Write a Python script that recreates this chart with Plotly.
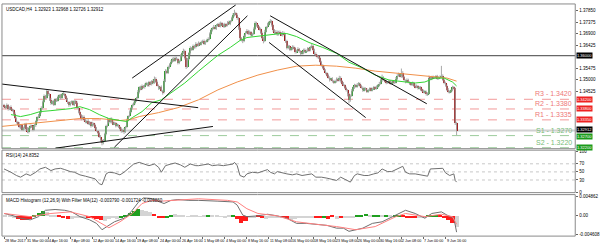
import numpy as np
import plotly.graph_objects as go

# ---------------- DATA ----------------
first_open = 1.3395
close = [
 1.3390, 1.3385, 1.3395, 1.3380, 1.3388, 1.3378, 1.3375, 1.3360, 1.3342, 1.3326,
 1.3318, 1.3305, 1.3312, 1.3294, 1.3300, 1.3318, 1.3296, 1.3285, 1.3302, 1.3310,
 1.3306, 1.3295, 1.3312, 1.3330, 1.3345, 1.3352, 1.3367, 1.3385, 1.3410, 1.3432,
 1.3425, 1.3453, 1.3440, 1.3418, 1.3404, 1.3412, 1.3398, 1.3420, 1.3415, 1.3428,
 1.3436, 1.3425, 1.3440, 1.3444, 1.3432, 1.3420, 1.3408, 1.3395, 1.3405, 1.3410,
 1.3398, 1.3412, 1.3404, 1.3385, 1.3368, 1.3355, 1.3340, 1.3348, 1.3335, 1.3326,
 1.3332, 1.3318, 1.3325, 1.3310, 1.3320, 1.3314, 1.3300, 1.3290, 1.3281, 1.3265,
 1.3250, 1.3240, 1.3248, 1.3275, 1.3310, 1.3334, 1.3325, 1.3340, 1.3326, 1.3318,
 1.3322, 1.3310, 1.3314, 1.3305, 1.3298, 1.3288, 1.3294, 1.3285, 1.3305, 1.3334,
 1.3350, 1.3368, 1.3383, 1.3395, 1.3405, 1.3415, 1.3424, 1.3450, 1.3469, 1.3462,
 1.3475, 1.3470, 1.3480, 1.3485, 1.3478, 1.3490, 1.3482, 1.3495, 1.3488, 1.3506,
 1.3492, 1.3477, 1.3465, 1.3470, 1.3455, 1.3449, 1.3495, 1.3538, 1.3530, 1.3552,
 1.3565, 1.3575, 1.3587, 1.3580, 1.3592, 1.3585, 1.3570, 1.3579, 1.3598, 1.3610,
 1.3620, 1.3590, 1.3555, 1.3585, 1.3610, 1.3632, 1.3625, 1.3640, 1.3635, 1.3648,
 1.3642, 1.3653, 1.3648, 1.3655, 1.3661, 1.3650, 1.3658, 1.3665, 1.3669, 1.3690,
 1.3705, 1.3714, 1.3720, 1.3712, 1.3725, 1.3730, 1.3722, 1.3735, 1.3728, 1.3720,
 1.3730, 1.3725, 1.3738, 1.3732, 1.3742, 1.3755, 1.3768, 1.3775, 1.3770, 1.3755,
 1.3715, 1.3673, 1.3665, 1.3661, 1.3680, 1.3695, 1.3702, 1.3690, 1.3698, 1.3685,
 1.3689, 1.3712, 1.3734, 1.3725, 1.3718, 1.3710, 1.3695, 1.3675, 1.3661, 1.3700,
 1.3718, 1.3730, 1.3738, 1.3742, 1.3725, 1.3705, 1.3693, 1.3700, 1.3688, 1.3698,
 1.3693, 1.3685, 1.3695, 1.3689, 1.3660, 1.3632, 1.3640, 1.3625, 1.3628, 1.3638,
 1.3630, 1.3615, 1.3620, 1.3628, 1.3618, 1.3608, 1.3612, 1.3625, 1.3615, 1.3620,
 1.3630, 1.3622, 1.3635, 1.3640, 1.3625, 1.3608, 1.3600, 1.3595, 1.3591, 1.3575,
 1.3560, 1.3551, 1.3540, 1.3528, 1.3520, 1.3510, 1.3500, 1.3505, 1.3495, 1.3489,
 1.3495, 1.3505, 1.3498, 1.3510, 1.3495, 1.3485, 1.3478, 1.3468, 1.3457, 1.3440,
 1.3416, 1.3435, 1.3455, 1.3469, 1.3478, 1.3472, 1.3480, 1.3485, 1.3475, 1.3468,
 1.3457, 1.3465, 1.3460, 1.3452, 1.3457, 1.3465, 1.3458, 1.3462, 1.3470, 1.3465,
 1.3472, 1.3477, 1.3485, 1.3498, 1.3510, 1.3500, 1.3495, 1.3488, 1.3489, 1.3495,
 1.3485, 1.3489, 1.3492, 1.3489, 1.3505, 1.3518, 1.3522, 1.3515, 1.3530, 1.3512,
 1.3498, 1.3492, 1.3500, 1.3490, 1.3485, 1.3480, 1.3488, 1.3477, 1.3470, 1.3475,
 1.3465, 1.3469, 1.3460, 1.3455, 1.3449, 1.3452, 1.3440, 1.3444, 1.3510, 1.3505,
 1.3512, 1.3508, 1.3510, 1.3515, 1.3505, 1.3510, 1.3512, 1.3518, 1.3500, 1.3488,
 1.3477, 1.3460, 1.3449, 1.3452, 1.3457, 1.3470, 1.3465, 1.3322, 1.3289,
]
upper_wick_pips = [
 6,4,8,5,3,7,4,5,6,3, 5,8,4,6,7,3,5,9,4,6, 5,4,6,3,5,7,4,6,5,8,
 6,7,4,5,8,3,6,5,4,7, 5,6,4,8,3,5,6,4,7,5, 6,4,5,7,3,5,4,6,5,8,
 4,6,5,3,7,4,5,6,3,5, 6,4,8,7,5,10,6,4,5,7, 5,4,6,3,5,6,4,7,5,6,
 4,6,5,7,5,4,6,8,5,7, 6,4,5,7,4,6,5,4,7,8, 5,6,4,5,7,4,8,6,5,7,
 4,6,5,7,5,4,6,5,8,6, 9,5,4,6,5,7,4,6,5,8, 5,6,4,7,5,6,4,5,7,6,
 6,5,7,4,6,5,7,6,4,5, 6,4,5,7,5,6,8,15,6,5, 5,6,4,5,7,6,8,5,6,4,
 6,5,8,6,5,4,6,5,4,7, 5,6,5,9,6,4,5,6,4,5, 6,5,7,4,5,6,5,4,6,5,
 4,6,5,7,4,5,6,4,5,6, 5,4,6,9,5,4,6,5,4,5, 4,5,6,4,5,6,5,4,6,5,
 6,5,4,7,5,4,6,5,4,5, 6,5,7,4,6,5,7,6,4,5, 5,6,4,5,6,4,5,6,5,4,
 5,6,7,6,12,5,6,4,5,6, 4,6,5,5,7,6,8,5,17,6, 5,4,6,5,4,6,5,4,5,6,
 4,5,6,4,5,6,4,5,8,6, 5,6,4,5,6,5,7,40,5,6, 5,4,6,5,4,6,5,3,5,
]
lower_wick_pips = [
 5,6,4,7,5,4,6,5,4,6, 6,5,8,5,4,6,7,5,6,4, 5,7,4,6,5,4,6,5,7,4,
 5,4,6,5,7,6,5,4,6,5, 4,6,5,4,6,5,7,6,4,5, 5,6,4,5,6,5,7,4,6,5,
 6,4,5,7,4,6,5,4,6,5, 8,10,6,5,4,6,5,4,6,5, 4,6,5,4,7,6,5,8,4,5,
 5,4,6,5,4,6,5,4,6,5, 4,5,6,4,5,7,4,5,6,4, 5,4,6,5,4,10,5,4,6,5,
 6,5,4,6,5,4,6,5,4,5, 4,6,10,5,4,6,5,4,6,5, 5,4,6,5,4,6,5,4,6,5,
 4,5,6,4,5,6,4,5,6,4, 5,6,4,5,6,4,5,6,4,7, 8,10,6,9,5,4,6,5,4,6,
 5,4,6,5,4,6,5,7,10,5, 4,5,6,4,5,6,5,4,6,5, 5,4,6,5,7,6,5,4,6,5,
 4,6,5,4,6,5,4,6,5,4, 5,6,4,5,6,5,4,6,5,4, 5,6,4,5,6,5,7,4,6,5,
 4,6,5,4,6,5,4,6,5,8, 12,6,5,4,6,5,4,6,5,4, 6,5,4,6,5,4,6,5,4,5,
 5,6,4,5,6,4,5,6,4,5, 5,4,6,5,4,6,5,4,6,5, 4,6,5,4,6,5,4,6,5,4,
 5,4,6,5,4,6,5,6,4,5, 6,5,4,6,5,4,6,5,4,6, 5,6,4,5,6,4,5,8,17,
]

# moving averages (bar, price)
ma_fast_bar = [5, 12, 19, 26, 34, 41, 48, 55, 62, 69, 76, 84, 89, 93, 100, 107, 114, 121, 131, 141,
               155, 164, 171, 176, 189, 200, 205, 212, 221, 231, 241, 250, 260, 269, 279, 284, 291,
               298, 305, 312, 319, 325, 328]
ma_fast_val = [1.33568, 1.33486, 1.33568, 1.33690, 1.33731, 1.33772, 1.33812, 1.33894, 1.33772, 1.33568,
               1.33404, 1.33323, 1.33282, 1.33445, 1.33690, 1.34057, 1.34180, 1.34465, 1.34873, 1.35363,
               1.36016, 1.36342, 1.36628, 1.36750, 1.36832, 1.36913, 1.36913, 1.36791, 1.36546, 1.36342,
               1.36097, 1.35730, 1.35485, 1.35200, 1.34996, 1.34955, 1.34914, 1.34873, 1.34914, 1.35077,
               1.35077, 1.34914, 1.34750]
ma_slow_bar = [-2, 12, 26, 41, 55, 69, 84, 91, 98, 112, 126, 141, 155, 169, 184, 198, 212, 226, 241,
               255, 269, 284, 298, 312, 321, 328]
ma_slow_val = [1.33078, 1.33160, 1.33241, 1.33323, 1.33404, 1.33404, 1.33323, 1.33363, 1.33486, 1.33649,
               1.33853, 1.34180, 1.34588, 1.34914, 1.35200, 1.35404, 1.35567, 1.35608, 1.35567, 1.35485,
               1.35363, 1.35281, 1.35200, 1.35118, 1.35077, 1.34950]

# RSI(14)
rsi_bar = [0, 1, 5, 9, 12, 16, 19, 23, 26, 30, 34, 37, 41, 44, 48, 51, 55, 59, 62, 66, 69, 71, 74, 76, 80,
           84, 87, 91, 94, 98, 101, 105, 109, 112, 114, 117, 121, 124, 128, 131, 135, 139, 141, 144, 148,
           151, 155, 159, 162, 166, 167, 169, 171, 174, 176, 180, 184, 187, 191, 193, 196, 198, 201, 205,
           209, 212, 216, 219, 223, 226, 230, 234, 237, 241, 244, 248, 251, 254, 256, 261, 264, 268, 271,
           274, 278, 281, 284, 286, 289, 291, 294, 298, 301, 305, 307, 309, 312, 316, 318, 320, 323, 326,
           327, 328]
rsi_val = [57.3, 56.0, 49.2, 41.1, 37.0, 45.1, 41.1, 49.2, 57.3, 61.4, 53.3, 57.3, 58.9, 55.7, 50.8, 49.2,
           42.7, 39.4, 37.0, 32.9, 20.7, 18.3, 45.1, 49.2, 47.6, 42.7, 49.2, 61.4, 69.5, 73.6, 69.5, 65.4,
           69.5, 61.4, 49.2, 65.4, 69.5, 72.0, 67.1, 61.4, 69.5, 65.4, 65.4, 67.1, 69.5, 65.4, 67.1, 65.4,
           67.1, 69.5, 73.6, 65.4, 41.1, 37.0, 45.1, 49.2, 47.6, 50.8, 55.7, 49.2, 45.1, 50.8, 47.6, 45.1,
           42.7, 45.1, 41.1, 42.7, 45.1, 37.0, 37.0, 34.6, 32.9, 28.9, 37.0, 31.0, 24.8, 41.1, 45.1, 41.1,
           41.1, 45.1, 47.6, 57.3, 50.8, 50.8, 55.7, 58.9, 63.8, 49.2, 45.1, 45.1, 42.7, 41.1, 39.4, 57.3,
           57.3, 57.3, 58.9, 47.6, 41.1, 45.1, 28.9, 24.8]
rsi_levels = [70, 50, 30]

# MACD
macd_bar = [0, 5, 12, 19, 25, 30, 37, 44, 49, 55, 62, 67, 71, 75, 80, 87, 92, 98, 101, 106, 112, 116, 121,
            126, 134, 141, 155, 166, 169, 173, 176, 184, 191, 198, 205, 212, 219, 226, 234, 241, 246, 250,
            254, 260, 267, 274, 284, 289, 291, 298, 305, 310, 317, 321, 326, 327, 328]
macd_val = [0.0006, 0.0002, -0.0006, -0.0010, -0.0002, 0.0014, 0.0016, 0.0014, 0.0010, -0.0002, -0.0010,
            -0.0019, -0.0035, -0.0027, -0.0015, -0.0006, 0.0010, 0.0037, 0.0045, 0.0044, 0.0037, 0.0031,
            0.0039, 0.0041, 0.0039, 0.0039, 0.0037, 0.0035, 0.0027, 0.0002, -0.0002, 0.0000, 0.0004,
            0.0000, -0.0006, -0.0019, -0.0019, -0.0021, -0.0024, -0.0031, -0.0031, -0.0039, -0.0035,
            -0.0031, -0.0019, -0.0015, 0.0002, 0.0010, 0.0014, 0.0006, -0.0006, 0.0006, 0.0010, 0.0002,
            -0.0006, -0.0023, -0.0041]
signal_bar = [0, 19, 34, 48, 62, 69, 76, 84, 93, 100, 107, 114, 124, 141, 162, 169, 176, 184, 198, 212,
              226, 241, 255, 269, 284, 291, 305, 317, 325, 328]
signal_val = [0.0006, -0.0002, 0.0006, 0.0010, -0.0002, -0.0015, -0.0030, -0.0015, 0.0006, 0.0031,
              0.0039, 0.0037, 0.0039, 0.0043, 0.0039, 0.0035, 0.0018, 0.0006, 0.0000, -0.0015, -0.0021,
              -0.0027, -0.0035, -0.0027, -0.0002, 0.0006, -0.0002, 0.0004, -0.0002, -0.0021]
hist_start = 0
hist_step = 3
hist_val = [0.0001, 0.0001, -0.0002, -0.0007, -0.0010, -0.0009, -0.0006, 0.0004, 0.0009, 0.0014,
            0.0011, 0.0003, 0.0002, 0.0001, -0.0005, -0.0008, -0.0006, -0.0003, -0.0004, -0.0005,
            -0.0003, -0.0005, -0.0008, -0.0010, -0.0012, -0.0006, -0.0005, -0.0006, -0.0004, 0.0003,
            0.0008, 0.0013, 0.0018, 0.0016, 0.0013, 0.0010, 0.0006, -0.0002, -0.0005, -0.0003,
            0.0004, 0.0005, 0.0002, 0.0002, -0.0001, 0.0002, 0.0001, -0.0001, 0.0001, 0.0002,
            0.0002, 0.0001, -0.0001, -0.0002, 0.0001, 0.0002, -0.0006, -0.0018, -0.0012, -0.0004,
            -0.0002, 0.0001, -0.0003, -0.0008, -0.0002, -0.0003, -0.0002, -0.0001, -0.0006, -0.0010,
            -0.0006, -0.0004, -0.0003, -0.0002, -0.0003, -0.0004, -0.0003, -0.0005, -0.0008, 0.0002,
            -0.0007, -0.0005, -0.0003, -0.0004, -0.0002, 0.0001, 0.0004, 0.0006, 0.0004, 0.0002,
            0.0003, 0.0002, 0.0001, 0.0003, 0.0002, 0.0004, 0.0003, -0.0002, -0.0004, -0.0003,
            -0.0004, -0.0002, 0.0001, 0.0003, 0.0004, 0.0003, -0.0003, -0.0009, -0.0016, -0.0028]
hist_col = list("sssrrrrgggsssrrrssssrrrrssssgggggsssrrrggssssssssgsssssgrrrssrrssssrrssssssrrgrrsrsssgggsggsgsggrrrrssgggrrrr")

# support / resistance levels
sr_names = ["R3", "R2", "R1", "S1", "S2"]
sr_levels = [1.3420, 1.3380, 1.3335, 1.3270, 1.3220]
key_level = 1.3600
bid_price = 1.32912

# trend lines (bar0, price0, bar1, price1)
trend_lines = [
    (92.9, 1.35077, 167.9, 1.38096),
    (80.0, 1.32221, 176.4, 1.37648),
    (-2.0, 1.34832, 140.7, 1.33853),
    (37.1, 1.32180, 151.4, 1.33078),
    (192.9, 1.37648, 306.4, 1.34016),
    (192.1, 1.36546, 262.1, 1.33445),
]

price_ticks = [1.34525, 1.35000, 1.35475, 1.36425, 1.36900, 1.37375, 1.37850]
time_tick_bars = [0, 16, 32, 48, 64, 80, 96, 112, 128, 144, 160, 176, 192, 208, 224, 240, 256,
                  272, 288, 304, 320]
time_tick_text = ["28 Mar 2017", "31 Mar 00:00", "4 Apr 16:00", "7 Apr 08:00", "12 Apr 00:00",
                  "14 Apr 16:00", "19 Apr 08:00", "24 Apr 00:00", "26 Apr 16:00", "1 May 08:00",
                  "4 May 00:00", "8 May 16:00", "11 May 08:00", "16 May 00:00", "18 May 16:00",
                  "23 May 08:00", "26 May 00:00", "30 May 16:00", "2 Jun 08:00", "7 Jun 00:00",
                  "9 Jun 16:00"]

title_main = "USDCAD,H4  1.32923 1.32968 1.32726 1.32912"
title_rsi = "RSI(14) 24.8352"
title_macd = "MACD Histogram (12,26,9) With Filter MA(12) -0.003790 -0.001724 -0.003860"

# ---------------- BUILD ----------------
n = min(len(close), len(upper_wick_pips), len(lower_wick_pips))
c = np.array(close[:n])
o = np.concatenate([[first_open], c[:-1]])
hi = np.maximum(o, c) + np.array(upper_wick_pips[:n]) * 0.0001
lo = np.minimum(o, c) - np.array(lower_wick_pips[:n]) * 0.0001
bars = np.arange(n)

GREEN = "#2f9a2f"
RED = "#a01818"
WICK = "#a9a9a9"
FONT = "Liberation Sans, Arial"

fig = go.Figure()

# wicks
wx, wy = [], []
for i in range(n):
    wx += [i, i, None]
    wy += [lo[i], hi[i], None]
fig.add_trace(go.Scatter(x=wx, y=wy, mode="lines", line=dict(color=WICK, width=1),
                         hoverinfo="skip", xaxis="x", yaxis="y"))
# bodies
body_base = np.minimum(o, c)
body_h = np.maximum(np.abs(c - o), 0.00004)
fig.add_trace(go.Bar(x=bars, y=body_h, base=body_base, width=0.8,
                     marker=dict(color=[GREEN if c[i] >= o[i] else RED for i in range(n)],
                                 line=dict(width=0)),
                     xaxis="x", yaxis="y"))

# moving averages
fig.add_trace(go.Scatter(x=ma_slow_bar, y=ma_slow_val, mode="lines",
                         line=dict(color="#f0904a", width=1), xaxis="x", yaxis="y"))
fig.add_trace(go.Scatter(x=ma_fast_bar, y=ma_fast_val, mode="lines",
                         line=dict(color="#33d633", width=1), xaxis="x", yaxis="y"))

# trend lines
for (b0, p0, b1, p1) in trend_lines:
    fig.add_trace(go.Scatter(x=[b0, b1], y=[p0, p1], mode="lines",
                             line=dict(color="#111111", width=1), xaxis="x", yaxis="y"))

# RSI
fig.add_trace(go.Scatter(x=rsi_bar, y=rsi_val, mode="lines",
                         line=dict(color="#707070", width=1), xaxis="x", yaxis="y2"))

# MACD
hist_x = [hist_start + k * hist_step + 1 for k in range(len(hist_val))]
cmap = {"g": "#1f9f1f", "r": "#ff1c1c", "s": "#d4d4d4"}
hc = [cmap[hist_col[k]] if k < len(hist_col) else cmap["s"] for k in range(len(hist_val))]
fig.add_trace(go.Bar(x=hist_x, y=hist_val, width=hist_step * 0.98,
                     marker=dict(color=hc, line=dict(width=0)), xaxis="x", yaxis="y3"))
fig.add_trace(go.Scatter(x=macd_bar, y=macd_val, mode="lines",
                         line=dict(color="#6f6f6f", width=1), xaxis="x", yaxis="y3"))
fig.add_trace(go.Scatter(x=signal_bar, y=signal_val, mode="lines",
                         line=dict(color="#ff8080", width=1), xaxis="x", yaxis="y3"))

# ---------------- LAYOUT ----------------
X0, X1 = 2 / 600, 584 / 600
MAIN = [1 - 149.5 / 246, 1 - 3 / 246]
RSI = [1 - 194 / 246, 1 - 151 / 246]
MACD = [1 - 238 / 246, 1 - 196 / 246]

shapes = []
annotations = []
for dom in (MAIN, RSI, MACD):
    shapes.append(dict(type="rect", xref="paper", yref="paper", x0=X0, x1=X1, y0=dom[0], y1=dom[1],
                       line=dict(color="#8a8a8a", width=1), layer="above"))

# bid line and key level
shapes.append(dict(type="line", xref="paper", yref="y", x0=X0, x1=X1, y0=bid_price, y1=bid_price,
                   line=dict(color="#d0d0d0", width=2), layer="below"))
shapes.append(dict(type="line", xref="paper", yref="y", x0=X0, x1=X1, y0=key_level, y1=key_level,
                   line=dict(color="#404040", width=1), layer="below"))

small = dict(family=FONT, size=4.5, color="#000000")
box_shift = {"S1": -1}
for name, lvl in zip(sr_names, sr_levels):
    col = "#f29a9a" if name.startswith("R") else "#9ccc9c"
    tcol = "#ee7777" if name.startswith("R") else "#77bb77"
    box = "#ee2222" if name.startswith("R") else "#1a9a1a"
    shapes.append(dict(type="line", xref="paper", yref="y", x0=X0, x1=X1, y0=lvl, y1=lvl,
                       line=dict(color=col, width=1, dash="dash"), layer="below"))
    annotations.append(dict(xref="paper", yref="y", x=X1 - 0.002, y=lvl, xanchor="right",
                            yanchor="bottom", showarrow=False, text=f"{name} - {lvl:.4f}",
                            font=dict(family=FONT, size=7, color=tcol)))
    annotations.append(dict(xref="paper", yref="y", x=X1 + 0.001, y=lvl, xanchor="left",
                            yanchor="middle", showarrow=False, text=f"{lvl:.5f}", bgcolor=box,
                            borderpad=0, yshift=box_shift.get(name, 0),
                            font=dict(family=FONT, size=4, color="#ffffff")))
for lvl, ys in ((key_level, 0), (bid_price, 1)):
    annotations.append(dict(xref="paper", yref="y", x=X1 + 0.001, y=lvl, xanchor="left",
                            yanchor="middle", showarrow=False, text=f"{lvl:.5f}", bgcolor="#000000",
                            borderpad=0, yshift=ys,
                            font=dict(family=FONT, size=4, color="#ffffff")))

for lv in rsi_levels:
    shapes.append(dict(type="line", xref="paper", yref="y2", x0=X0, x1=X1, y0=lv, y1=lv,
                       line=dict(color="#c8c8c8", width=1, dash="dot"), layer="below"))

# titles
annotations.append(dict(xref="paper", yref="paper", x=X0 + 0.003, y=MAIN[1] - 0.003, xanchor="left",
                        yanchor="top", showarrow=False, text=title_main, font=small))
annotations.append(dict(xref="paper", yref="paper", x=X0 + 0.003, y=RSI[1] - 0.004, xanchor="left",
                        yanchor="top", showarrow=False, text=title_rsi, font=small))
annotations.append(dict(xref="paper", yref="paper", x=X0 + 0.003, y=MACD[1] - 0.004, xanchor="left",
                        yanchor="top", showarrow=False, text=title_macd, font=small))

# time labels
for b, t in zip(time_tick_bars, time_tick_text):
    annotations.append(dict(xref="x", yref="paper", x=b, y=1 - 238.5 / 246, xanchor="left",
                            yanchor="top", showarrow=False, text=t,
                            font=dict(family=FONT, size=3.7, color="#000000"), xshift=-1))

yax_common = dict(side="right", showgrid=False, zeroline=False, ticks="outside", ticklen=2,
                  tickcolor="#666666", tickfont=dict(family=FONT, size=4.5, color="#000000"),
                  showline=False, fixedrange=True)

fig.update_layout(
    width=600, height=246,
    margin=dict(l=0, r=0, t=0, b=0),
    paper_bgcolor="#ffffff", plot_bgcolor="#ffffff",
    showlegend=False, bargap=0,
    xaxis=dict(domain=[X0, X1], range=[-1.5, 414], anchor="y3", showgrid=False, zeroline=False,
               showticklabels=False, ticks="outside", ticklen=2, tickcolor="#666666",
               tickvals=time_tick_bars, showline=False),
    yaxis=dict(domain=MAIN, range=[1.32160, 1.38137], anchor="x",
               tickvals=price_ticks, ticktext=[f"{v:.5f}" for v in price_ticks], **yax_common),
    yaxis2=dict(domain=RSI, range=[-1.2, 103.7], anchor="x",
                tickvals=[0, 30, 50, 70, 100], **yax_common),
    yaxis3=dict(domain=MACD, range=[-0.0051, 0.00535], anchor="x",
                tickvals=[-0.004608, 0, 0.004862], ticktext=["-0.004608", "0.00", "0.004862"],
                **yax_common),
    shapes=shapes,
    annotations=annotations,
)

fig.write_html("out.html")
